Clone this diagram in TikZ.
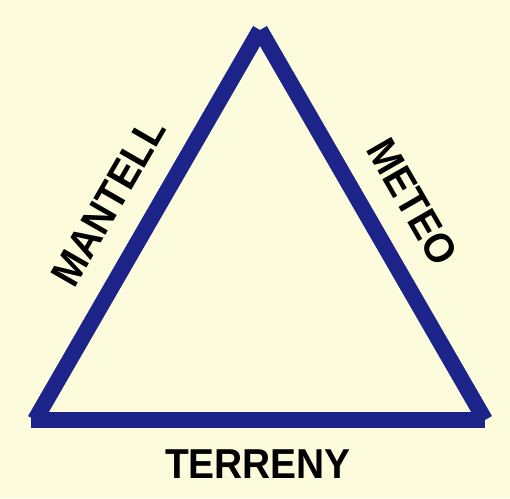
\documentclass[tikz,border=0pt]{standalone}
\usepackage{fontspec}
\setmainfont{Liberation Sans}[FakeStretch=0.93]
\usetikzlibrary{calc}

\definecolor{bgyellow}{RGB}{252,252,220}
\definecolor{sideblue}{RGB}{28,36,138}

\begin{document}
\begin{tikzpicture}[x=0.02cm,y=0.02cm,line cap=butt]
    % Sizes (in pixels of the original)
    \def\side{450}
    \def\height{390} % side * sin(60)
    \def\gap{0.46cm}

    % Background
    \fill[bgyellow] (0,0) rectangle (510,498);

    % Corners of the triangle
    \coordinate (B) at (35,78);
    \coordinate (C) at (35+\side,78);
    \coordinate (A) at (35+0.5*\side,78+\height);

    % Sides with their labels
    \draw[sideblue, line width=0.32cm] (B) -- (A)
        node[midway, sloped, above=\gap, inner sep=0pt, text=black, font=\bfseries\fontsize{23.8}{24}\selectfont] (mantell) {MANTELL};
    \draw[sideblue, line width=0.32cm] (A) -- (C)
        node[midway, sloped, above=\gap, inner sep=0pt, text=black, font=\bfseries\fontsize{23.8}{24}\selectfont] (meteo) {METEO};
    \draw[sideblue, line width=0.32cm] ($(B)+(-4,0)$) -- (C);

    % Base label
    \node[inner sep=0pt, font=\bfseries\fontsize{23.8}{24}\selectfont] (terreny) at (258,34) {TERRENY};
\end{tikzpicture}
\end{document}
